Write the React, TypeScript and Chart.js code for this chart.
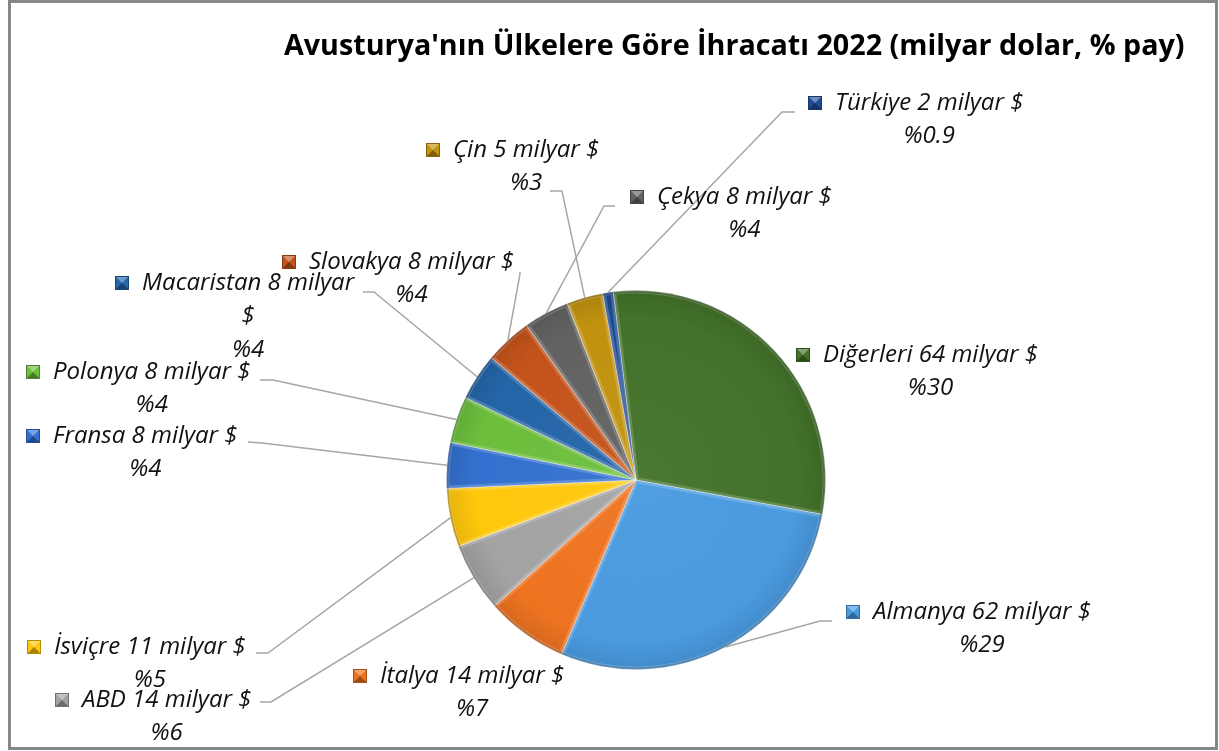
import React, { useEffect, useRef } from "react";
import { Chart, registerables } from "chart.js";

Chart.register(...registerables);

// ---------- data ----------
const TITLE = "Avusturya'nın Ülkelere Göre İhracatı 2022 (milyar dolar, % pay)";
const COUNTRIES = ["Diğerleri", "Almanya", "İtalya", "ABD", "İsviçre", "Fransa", "Polonya", "Macaristan", "Slovakya", "Çekya", "Çin", "Türkiye"];
const BILLIONS = [64, 62, 14, 14, 11, 8, 8, 8, 8, 8, 5, 2];
const SHARES = [29.9, 28.6, 7.0, 5.9, 5.0, 3.9, 4.0, 4.0, 4.05, 3.9, 3.1, 0.9];
const COLORS = ["#43722A", "#4A9AE0", "#EE7321", "#A3A3A3", "#FFC80C", "#3470CF", "#6CBE3C", "#2465A8", "#C4531B", "#626262", "#C0920F", "#1F4B94"];

// ---------- layout (page pixels) ----------
// [square left x, first line centre y, wrap last word]
const LABEL_POS: [number, number, boolean][] = [
  [796, 355, false],
  [846, 612, false],
  [353, 676, false],
  [55, 700, false],
  [27, 647, false],
  [26, 436, false],
  [26, 372, false],
  [115, 283, true],
  [282, 262, false],
  [630, 197, false],
  [426, 150, false],
  [808, 103, false],
];
// leader line: [startX, startY, elbowX, elbowY] or null
const LEADERS: ([number, number, number, number] | null)[] = [
  null,
  [832, 621, 820, 621],
  null,
  [260, 702, 271, 702],
  [256, 653, 268, 653],
  [248, 442, 262, 443],
  [260, 380, 273, 380],
  [363, 292, 374, 292],
  [520, 272, 520, 274],
  [615, 206, 604, 206],
  [550, 191, 562, 191],
  [795, 112, 782, 112],
];

const LABEL_FAMILY = "'Open Sans', 'Noto Sans', 'DejaVu Sans', sans-serif";
const TITLE_FAMILY = "'Open Sans', 'Noto Sans', 'DejaVu Sans', sans-serif";

function shade(hex: string, amt: number): string {
  const n = parseInt(hex.slice(1), 16);
  let r = (n >> 16) & 255, g = (n >> 8) & 255, b = n & 255;
  const f = (c: number) => Math.max(0, Math.min(255, Math.round(amt >= 0 ? c + (255 - c) * amt : c * (1 + amt))));
  r = f(r); g = f(g); b = f(b);
  return `rgb(${r},${g},${b})`;
}

function pctText(v: number): string {
  return "%" + (v < 1 ? v.toFixed(1) : String(Math.round(v)));
}

function fitSize(ctx: CanvasRenderingContext2D, style: string, family: string, text: string, target: number): number {
  ctx.font = `${style} 100px ${family}`;
  const w = ctx.measureText(text).width;
  return Math.round((100 * target / w) * 10) / 10;
}

const decorPlugin = {
  id: "decor",
  afterDraw(chart: any) {
    const ctx: CanvasRenderingContext2D = chart.ctx;
    ctx.save();
    // frame
    ctx.strokeStyle = "#878787";
    ctx.lineWidth = 3;
    ctx.strokeRect(9.5, 1.5, 1207, 747);

    // title
    const tSize = fitSize(ctx, "bold", TITLE_FAMILY, TITLE, 901);
    ctx.fillStyle = "#000";
    ctx.font = `bold ${tSize}px ${TITLE_FAMILY}`;
    ctx.textBaseline = "middle";
    ctx.textAlign = "left";
    ctx.fillText(TITLE, 284, 47);

    const meta = chart.getDatasetMeta(0);
    // leader lines
    ctx.strokeStyle = "#A6A6A6";
    ctx.lineWidth = 1.5;
    meta.data.forEach((arc: any, i: number) => {
      const L = LEADERS[i];
      if (!L) return;
      const mid = (arc.startAngle + arc.endAngle) / 2;
      const ex = arc.x + Math.cos(mid) * arc.outerRadius;
      const ey = arc.y + Math.sin(mid) * arc.outerRadius;
      ctx.beginPath();
      ctx.moveTo(L[0], L[1]);
      ctx.lineTo(L[2], L[3]);
      ctx.lineTo(ex, ey);
      ctx.stroke();
    });

    // labels
    const lSize = fitSize(ctx, "italic", LABEL_FAMILY, "Türkiye 2 milyar $", 188);
    ctx.font = `italic ${lSize}px ${LABEL_FAMILY}`;
    COUNTRIES.forEach((name, i) => {
      const [sx, y, wrap] = LABEL_POS[i];
      const col = COLORS[i];
      // bevelled square
      const s = 14, sy = y - 7;
      ctx.fillStyle = col;
      ctx.fillRect(sx, sy, s, s);
      ctx.fillStyle = shade(col, 0.35);
      ctx.beginPath();
      ctx.moveTo(sx, sy); ctx.lineTo(sx + s, sy); ctx.lineTo(sx + s / 2, sy + s / 2); ctx.closePath(); ctx.fill();
      ctx.fillStyle = shade(col, -0.35);
      ctx.beginPath();
      ctx.moveTo(sx, sy + s); ctx.lineTo(sx + s, sy + s); ctx.lineTo(sx + s / 2, sy + s / 2); ctx.closePath(); ctx.fill();
      ctx.strokeStyle = shade(col, -0.3);
      ctx.lineWidth = 1;
      ctx.strokeRect(sx + 0.5, sy + 0.5, s - 1, s - 1);

      const full = `${name} ${BILLIONS[i]} milyar $`;
      const lines: string[] = [];
      if (wrap) {
        const k = full.lastIndexOf(" ");
        lines.push(full.slice(0, k), full.slice(k + 1));
      } else lines.push(full);
      lines.push(pctText(SHARES[i]));
      const tx = sx + 27;
      const w0 = ctx.measureText(lines[0]).width;
      const cx = tx + w0 / 2;
      ctx.fillStyle = "#111";
      ctx.textAlign = "left";
      ctx.fillText(lines[0], tx, y);
      ctx.textAlign = "center";
      for (let j = 1; j < lines.length; j++) {
        ctx.fillText(lines[j], cx, y + 33.5 * j);
      }
    });
    ctx.restore();
  },
};

const bevelPlugin = {
  id: "bevel",
  afterDatasetsDraw(chart: any) {
    const ctx: CanvasRenderingContext2D = chart.ctx;
    const meta = chart.getDatasetMeta(0);
    ctx.save();
    meta.data.forEach((arc: any) => {
      const { x, y, startAngle, endAngle, outerRadius } = arc;
      ctx.save();
      ctx.beginPath();
      ctx.moveTo(x, y);
      ctx.arc(x, y, outerRadius, startAngle, endAngle);
      ctx.closePath();
      ctx.clip();
      ctx.lineWidth = 6;
      ctx.strokeStyle = "rgba(255,255,255,0.18)";
      ctx.stroke();
      ctx.lineWidth = 2;
      ctx.strokeStyle = "rgba(0,0,0,0.18)";
      ctx.beginPath();
      ctx.arc(x, y, outerRadius - 1, startAngle, endAngle);
      ctx.stroke();
      ctx.restore();
    });
    ctx.restore();
  },
};

export default function App() {
  const ref = useRef<HTMLCanvasElement | null>(null);
  useEffect(() => {
    if (!ref.current) return;
    const chart = new Chart(ref.current, {
      type: "pie",
      data: {
        labels: COUNTRIES,
        datasets: [
          {
            data: SHARES,
            backgroundColor: (c: any) => {
              const i = c.dataIndex;
              const col = COLORS[i];
              const area = c.chart.chartArea;
              if (!area) return col;
              const cx = (area.left + area.right) / 2;
              const cy = (area.top + area.bottom) / 2;
              const g = c.chart.ctx.createRadialGradient(cx, cy, 0, cx, cy, 190);
              g.addColorStop(0, shade(col, 0.04));
              g.addColorStop(0.85, col);
              g.addColorStop(1, shade(col, -0.1));
              return g;
            },
            borderColor: "rgba(255,255,255,0.35)",
            borderWidth: 1,
            hoverOffset: 0,
          },
        ],
      },
      options: {
        responsive: false,
        animation: false,
        rotation: -6.9,
        layout: { padding: { left: 446, top: 290, right: 393, bottom: 81 } },
        plugins: {
          legend: { display: false },
          tooltip: { enabled: false },
          title: { display: false },
        },
      },
      plugins: [bevelPlugin, decorPlugin],
    });
    return () => chart.destroy();
  }, []);
  return (
    <canvas
      ref={ref}
      width={1219}
      height={751}
      style={{ position: "absolute", left: 0, top: 0, width: 1219, height: 751, background: "#fff" }}
    />
  );
}
